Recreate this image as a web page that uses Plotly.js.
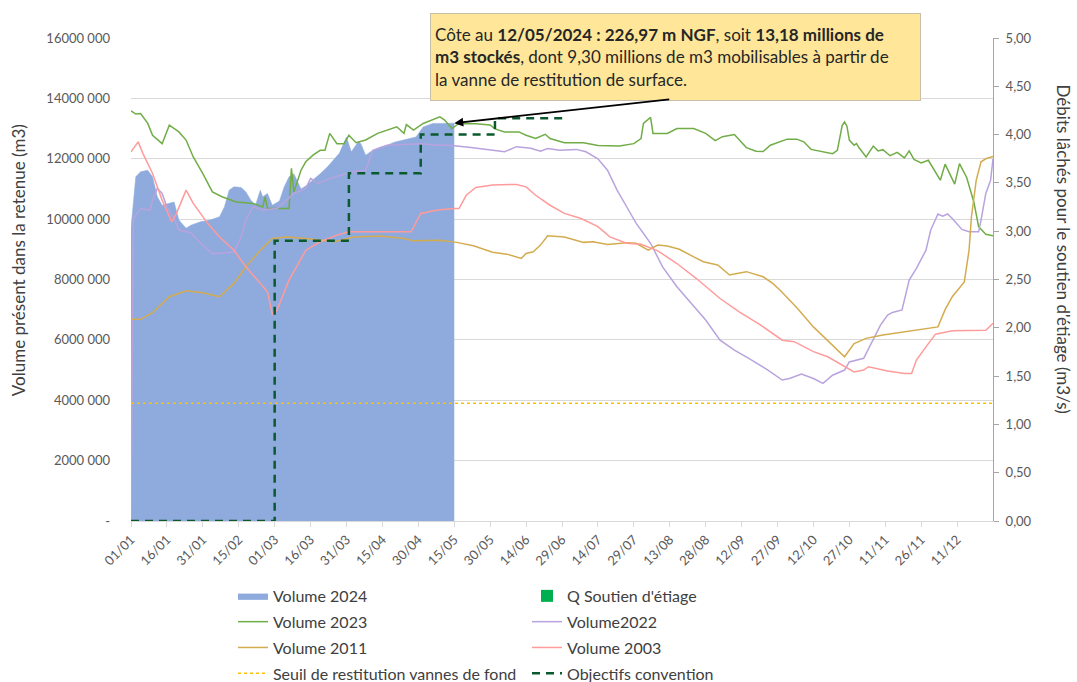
<!DOCTYPE html>
<html><head><meta charset="utf-8">
<script src="https://cdn.plot.ly/plotly-3.0.1.min.js"></script>
<style>html,body{margin:0;padding:0;background:#fff}#chart{width:1077px;height:682px}</style>
</head><body><div id="chart"></div>
<script>
// Day index of the year (0 = 01/01/2024), volumes in millions of m3
const days2024 = [0,2,4,7,9,11,13,15,18,20,23,25,29,33,37,39,41,43,46,48,50,52,54,55,57,59,62,64,66,68,71,73,76,79,82,85,87,90,92,95,96,98,101,104,107,110,114,119,122,126,130,135];
const vol2024 = [9.7,11.4,11.57,11.62,11.4,10.74,10.46,10.5,10.57,9.97,9.7,9.8,9.91,9.97,10.08,10.4,10.96,11.07,11.05,10.9,10.63,10.46,10.96,10.74,10.85,10.46,10.6,11.07,11.4,11.5,11.0,11.1,11.29,11.5,11.73,12.0,12.18,12.72,12.23,12.57,12.5,12.12,12.28,12.38,12.45,12.55,12.62,12.72,13.05,13.17,13.17,13.18];

const days2023 = [0,2,4,7,9,13,16,20,23,26,30,34,38,44,51,55,56,57,66,67,68,71,73,76,79,81,83,86,89,91,94,98,103,107,111,114,115,118,122,129,131,134,137,144,150,152,156,162,165,169,173,175,181,189,195,204,210,213,214,217,218,224,228,235,240,244,247,252,254,257,261,264,267,271,274,278,281,284,288,293,295,296,297,298,299,300,302,303,304,307,309,310,312,314,317,320,323,325,327,330,333,336,338,340,344,346,349,352,354,357,360];
const vol2023 = [13.59,13.48,13.5,13.17,12.78,12.5,13.11,12.89,12.62,12.06,11.51,10.9,10.74,10.57,10.52,10.4,10.74,10.35,10.35,11.68,10.9,11.62,11.9,12.12,12.28,12.28,12.84,12.5,12.5,12.78,12.53,12.62,12.84,12.95,13.06,12.84,13.13,12.95,13.17,13.39,13.28,13.0,13.17,13.16,13.12,12.99,12.89,12.89,12.78,12.67,12.81,12.67,12.53,12.53,12.44,12.42,12.5,12.67,13.17,13.37,12.84,12.84,13.0,13.0,12.84,12.6,12.73,12.8,12.62,12.37,12.25,12.24,12.45,12.56,12.65,12.65,12.56,12.31,12.24,12.17,12.28,12.7,13.1,13.22,13.08,12.62,12.45,12.5,12.37,12.06,12.28,12.42,12.26,12.3,12.1,12.21,12.03,12.26,11.98,11.86,11.95,11.57,11.29,11.82,11.16,11.84,11.38,10.57,9.75,9.5,9.45];

const days2022 = [0,1,4,8,9,11,13,15,18,20,25,29,34,37,43,46,48,51,55,61,65,68,73,75,78,85,93,98,101,107,114,118,121,128,133,142,149,156,161,167,171,174,179,186,190,195,199,203,207,211,217,222,228,235,240,246,252,258,266,272,275,280,285,289,293,298,300,306,307,313,316,318,322,325,328,332,334,337,339,341,343,347,350,354,355,357,359,360];
const vol2022 = [0,10.02,10.35,10.3,10.63,11.02,10.85,10.4,10.02,9.64,9.55,9.2,8.86,8.86,8.92,9.41,9.97,10.41,10.3,10.35,10.63,10.85,11.02,11.35,11.18,11.4,11.57,11.62,12.28,12.45,12.47,12.5,12.5,12.45,12.45,12.37,12.31,12.23,12.4,12.35,12.25,12.34,12.28,12.31,12.23,12.0,11.62,10.96,10.41,9.86,9.2,8.42,7.76,7.1,6.66,5.99,5.66,5.39,5.0,4.67,4.72,4.87,4.72,4.56,4.83,5.0,5.27,5.39,5.55,6.49,6.82,6.91,6.99,7.98,8.37,8.97,9.64,10.17,10.1,10.17,10.02,9.66,9.58,9.58,9.97,10.85,11.29,12.0];

const days2011 = [0,4,9,16,23,30,37,43,48,54,59,65,73,85,93,104,114,118,129,136,143,151,157,163,165,168,171,174,181,189,193,199,207,211,216,220,224,229,235,239,245,250,252,257,264,268,271,278,285,293,298,302,307,314,321,332,337,340,343,348,350,351,353,355,357,360];
const vol2011 = [6.68,6.68,6.9,7.43,7.63,7.56,7.43,7.87,8.42,8.97,9.36,9.41,9.36,9.25,9.41,9.44,9.36,9.28,9.3,9.23,9.12,8.9,8.84,8.7,8.86,8.92,9.14,9.45,9.41,9.23,9.25,9.16,9.22,9.2,8.97,9.14,9.11,9.0,8.75,8.59,8.48,8.15,8.18,8.26,8.09,7.87,7.65,7.07,6.43,5.83,5.44,5.88,6.05,6.16,6.24,6.35,6.43,7.0,7.43,7.92,8.97,10.08,11.29,11.9,12.0,12.08];

const days2003 = [0,3,5,9,13,17,19,23,26,32,37,43,48,54,57,59,61,66,73,79,86,91,100,117,121,128,135,137,140,144,151,161,165,169,175,181,188,195,200,207,213,220,228,236,246,254,263,272,277,285,291,296,302,306,308,316,323,326,328,332,336,343,357,360];
const vol2003 = [12.23,12.56,12.17,11.51,10.63,9.91,10.19,10.96,10.52,9.86,9.41,8.97,8.42,7.87,7.59,6.85,6.99,7.98,8.97,9.25,9.47,9.58,9.58,9.58,10.19,10.3,10.35,10.35,10.79,11.05,11.13,11.15,11.07,10.79,10.46,10.19,10.02,9.75,9.41,9.2,9.17,8.95,8.53,8.04,7.37,6.93,6.49,5.99,5.94,5.61,5.44,5.22,4.94,5.0,5.11,4.97,4.89,4.89,5.33,5.77,6.19,6.3,6.32,6.55];

const seuilDays = [0,360];
const seuilVol = [3.9,3.9];

// Débits (m3/s)
const objDays = [0,60,91,121,152,181];
const objDebit = [0,2.9,3.6,4.0,4.17,4.17];
const soutienDays = [0];
const soutienDebit = [0];

const xTickLabels = ['01/01','16/01','31/01','15/02','01/03','16/03','31/03','15/04','30/04','15/05','30/05','14/06','29/06','14/07','29/07','13/08','28/08','12/09','27/09','12/10','27/10','11/11','26/11','11/12'];
const yTickValues = [0,2,4,6,8,10,12,14,16];
const yTickLabels = ['-','2000 000','4000 000','6000 000','8000 000','10000 000','12000 000','14000 000','16000 000'];
const y2TickValues = [0,0.5,1,1.5,2,2.5,3,3.5,4,4.5,5];
const y2TickLabels = ['0,00','0,50','1,00','1,50','2,00','2,50','3,00','3,50','4,00','4,50','5,00'];

const annotDay = 135, annotVol = 13.18;

const toDate = d => { const t = new Date(Date.UTC(2024,0,1)); t.setUTCDate(t.getUTCDate()+d); return t.toISOString().slice(0,10); };
const lbl2date = s => '2024-' + s.slice(3,5) + '-' + s.slice(0,2);
const M = a => a.map(v => v*1e6);

const FONT = 'Lato, "Liberation Sans", sans-serif';

const traces = [
  {name:'Volume 2024', x:days2024.map(toDate), y:M(vol2024), type:'scatter', mode:'lines', fill:'tozeroy',
   fillcolor:'#8FAADC', line:{color:'#8FAADC', width:0.5}, legend:'legend', legendgroup:'a1'},
  {name:"Q Soutien d'étiage", x:soutienDays.map(toDate), y:soutienDebit, type:'bar', yaxis:'y2',
   marker:{color:'#00B050'}, legend:'legend2', legendgroup:'b1'},
  {name:'Volume 2023', x:days2023.map(toDate), y:M(vol2023), type:'scatter', mode:'lines',
   line:{color:'#70AD47', width:1.5}, legend:'legend', legendgroup:'a2'},
  {name:'Volume2022', x:days2022.map(toDate), y:M(vol2022), type:'scatter', mode:'lines',
   line:{color:'#B9A3DE', width:1.5}, legend:'legend2', legendgroup:'b2'},
  {name:'Volume 2011', x:days2011.map(toDate), y:M(vol2011), type:'scatter', mode:'lines',
   line:{color:'#D4AC50', width:1.5}, legend:'legend', legendgroup:'a3'},
  {name:'Volume 2003', x:days2003.map(toDate), y:M(vol2003), type:'scatter', mode:'lines',
   line:{color:'#FF9B9B', width:1.5}, legend:'legend2', legendgroup:'b3'},
  {name:'Seuil de restitution vannes de fond', x:seuilDays.map(toDate), y:M(seuilVol), type:'scatter', mode:'lines',
   line:{color:'#FFC000', width:1.5, dash:'dot'}, legend:'legend', legendgroup:'a4'},
  {name:'Objectifs convention', x:objDays.map(toDate), y:objDebit, type:'scatter', mode:'lines', yaxis:'y2',
   line:{color:'#0B5A2E', width:2.5, dash:'8px,6px', shape:'hv'}, legend:'legend2', legendgroup:'b4'}
];

const legendBase = {orientation:'v', traceorder:'grouped', tracegroupgap:2, yanchor:'top', xanchor:'left',
  y:-0.120, bgcolor:'rgba(0,0,0,0)', font:{family:FONT, size:16, color:'#404040'}, itemwidth:30};

const layout = {
  width:1077, height:682,
  margin:{l:131, r:84, t:38, b:161, autoexpand:false},
  paper_bgcolor:'#ffffff', plot_bgcolor:'#ffffff',
  font:{family:FONT, color:'#595959'},
  showlegend:true, hovermode:false, bargap:0,
  xaxis:{type:'date', range:[toDate(0), toDate(360)], tickmode:'array',
    tickvals:xTickLabels.map(lbl2date), ticktext:xTickLabels, tickangle:-45,
    ticks:'outside', ticklen:5, tickcolor:'#D9D9D9', showline:true, linecolor:'#D9D9D9', linewidth:1,
    showgrid:false, zeroline:false, tickfont:{family:FONT, size:13, color:'#595959'}},
  yaxis:{range:[0,16e6], tickmode:'array', tickvals:M(yTickValues), ticktext:yTickLabels,
    showgrid:true, gridcolor:'#D9D9D9', gridwidth:1, zeroline:false, showline:false, ticks:'',
    ticklabelstandoff:20, tickfont:{family:FONT, size:13, color:'#595959'}},
  yaxis2:{overlaying:'y', side:'right', range:[0,5], tickmode:'array', tickvals:y2TickValues, ticktext:y2TickLabels,
    showgrid:false, zeroline:false, showline:true, linecolor:'#A6A6A6', ticks:'outside', ticklen:5, tickcolor:'#A6A6A6',
    ticklabelstandoff:4, tickfont:{family:FONT, size:13, color:'#595959'}},
  legend:Object.assign({}, legendBase, {x:0.1183}),
  legend2:Object.assign({}, legendBase, {x:0.4594}),
  annotations:[
    {xref:'paper', yref:'paper', x:0.3469, y:1.0518, xanchor:'left', yanchor:'top', showarrow:false,
     text:"Côte au <b>12/05/2024 : 226,97 m NGF</b>, soit <b>13,18 millions de</b><br><b>m3 stockés</b>, dont 9,30 millions de m3 mobilisables à partir de<br>la vanne de restitution de surface.",
     align:'left', valign:'middle', width:481, height:78, borderpad:4,
     bgcolor:'#FFE699', bordercolor:'#C8C0A8', borderwidth:1,
     font:{family:FONT, size:17, color:'#262626'}},
    {xref:'x', yref:'y', x:toDate(annotDay), y:annotVol*1e6, text:' ', showarrow:true,
     ax:218, ay:-24, arrowhead:2, arrowsize:1, arrowwidth:1.8, arrowcolor:'#000000', standoff:0},
    {xref:'paper', yref:'paper', x:-0.1311, y:0.54, xanchor:'center', yanchor:'middle', showarrow:false,
     textangle:-90, text:'Volume présent dans la retenue (m3)', font:{family:FONT, size:17, color:'#404040'}},
    {xref:'paper', yref:'paper', x:1.0812, y:0.562, xanchor:'center', yanchor:'middle', showarrow:false,
     textangle:90, text:"Débits lâchés pour le soutien d'étiage (m3/s)", font:{family:FONT, size:17, color:'#404040'}}
  ]
};

Plotly.newPlot('chart', traces, layout, {displayModeBar:false, staticPlot:true});
</script>
</body></html>
